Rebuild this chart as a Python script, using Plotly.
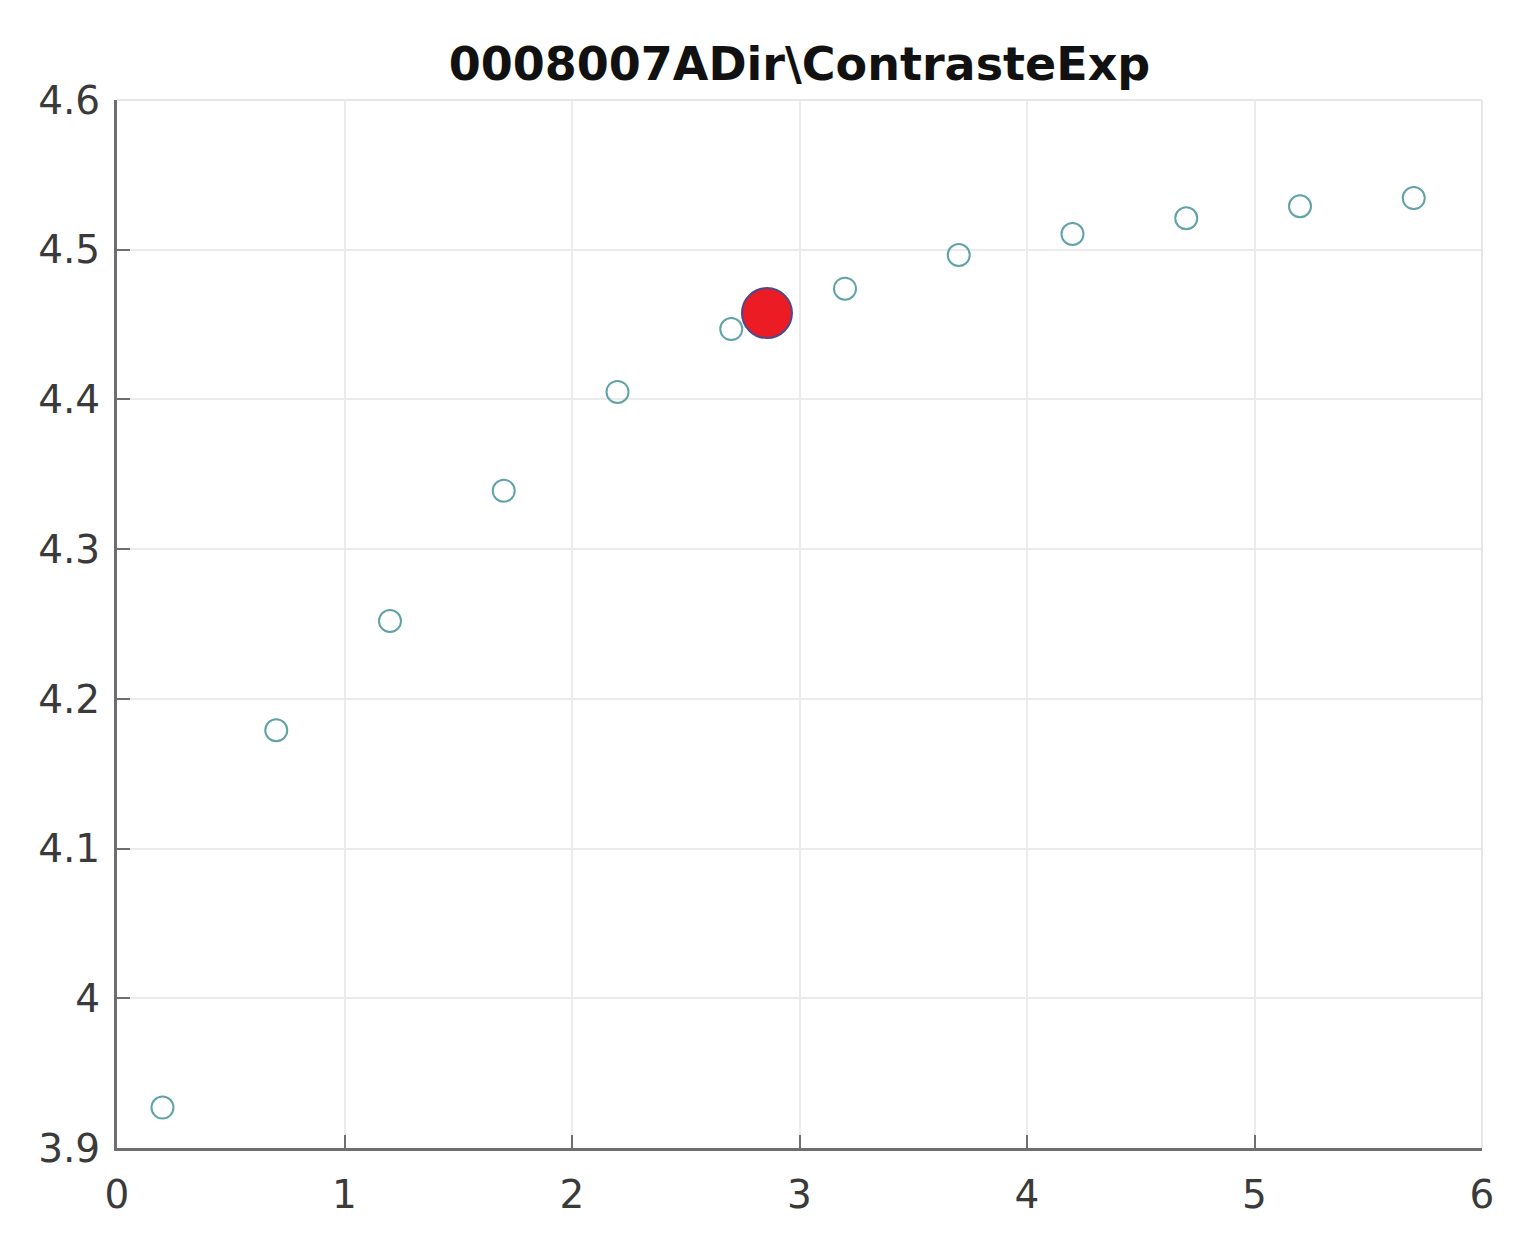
import plotly.graph_objects as go

# measured points (open circles)
x_vals = [0.2, 0.7, 1.2, 1.7, 2.2, 2.7, 3.2, 3.7, 4.2, 4.7, 5.2, 5.7]
y_vals = [3.927, 4.179, 4.252, 4.339, 4.405, 4.447, 4.474, 4.4965, 4.5105, 4.521, 4.529, 4.5345]

# highlighted point
sel_x = [2.857]
sel_y = [4.4577]

title = "0008007ADir\\ContrasteExp"
x_ticks = [0, 1, 2, 3, 4, 5, 6]
y_ticks = [3.9, 4.0, 4.1, 4.2, 4.3, 4.4, 4.5, 4.6]
y_tick_text = ["3.9", "4", "4.1", "4.2", "4.3", "4.4", "4.5", "4.6"]

fig = go.Figure()
fig.add_trace(go.Scatter(
    x=x_vals, y=y_vals, mode="markers",
    marker=dict(symbol="circle-open", size=22, color="#5fa3a8", line=dict(width=2)),
    showlegend=False,
))
fig.add_trace(go.Scatter(
    x=sel_x, y=sel_y, mode="markers",
    marker=dict(size=50, color="#ec1c24", line=dict(color="#4b4a8c", width=2)),
    showlegend=False,
))

axis_common = dict(
    showgrid=True, gridcolor="#ebebeb", gridwidth=2,
    zeroline=False, showline=True, linecolor="#6e6e6e", linewidth=3,
    ticks="inside", ticklen=13, tickwidth=2, tickcolor="#6e6e6e",
    tickfont=dict(family="DejaVu Sans", size=39, color="#3a3a3a"),
)

fig.update_xaxes(range=[0, 6], tickvals=x_ticks, ticklabelstandoff=10, **axis_common)
fig.update_yaxes(range=[3.9, 4.6], tickvals=y_ticks, ticktext=y_tick_text, ticklabelstandoff=6, **axis_common)

# top/right light box edges
fig.add_shape(type="line", xref="paper", yref="paper", x0=0, x1=1, y0=1, y1=1,
              line=dict(color="#e6e6e6", width=2))
fig.add_shape(type="line", xref="paper", yref="paper", x0=1, x1=1, y0=0, y1=1,
              line=dict(color="#e6e6e6", width=2))

fig.update_layout(
    width=1519, height=1248,
    margin=dict(l=109, r=45, t=92, b=108),
    paper_bgcolor="white", plot_bgcolor="white",
    title=dict(text=f"<b>{title}</b>", xref="paper", x=0.5, xanchor="center",
               y=0.955, yanchor="middle",
               font=dict(family="DejaVu Sans", size=46, color="#111111")),
)

fig.write_html("out.html")
